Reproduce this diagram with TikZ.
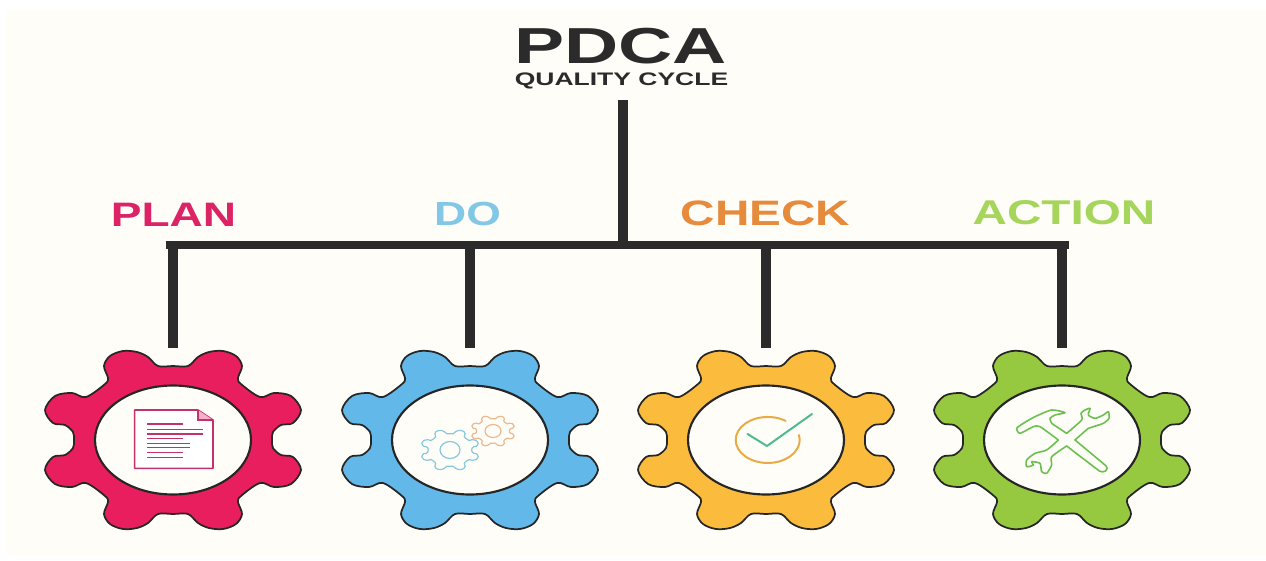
\documentclass[tikz,border=0pt]{standalone}
\usepackage{fontspec}
\usepackage{graphicx}
\setmainfont{Liberation Sans}
\definecolor{cream}{HTML}{FFFDF8}
\definecolor{barc}{HTML}{2B2B2B}
\definecolor{pinkc}{HTML}{E91E5F}
\definecolor{bluec}{HTML}{62B9E9}
\definecolor{yelc}{HTML}{FBBC3E}
\definecolor{grnc}{HTML}{96C93F}
\definecolor{pinkt}{HTML}{DB2365}
\definecolor{bluet}{HTML}{82C7E6}
\definecolor{oranget}{HTML}{E68A3C}
\definecolor{grnt}{HTML}{A6D55B}
\definecolor{toolc}{HTML}{6CC04F}
\definecolor{minib}{HTML}{86C8DC}
\definecolor{minio}{HTML}{EBB98F}
\definecolor{ringc}{HTML}{E9AC45}
\definecolor{tickc}{HTML}{4FBA92}
\definecolor{docc}{HTML}{C2336E}
\newcommand\fitbox[3]{\resizebox{#1pt}{#2pt}{\textbf{#3}}}
\newcommand\gearpath{plot[smooth cycle,tension=.55] coordinates{
 (0,-74)(15,-74)(25,-83)(36,-88)(50,-89)(63,-84)(69,-74)(65,-62)(68,-56)(87,-43)(101,-47)(118,-44)(128,-30)(120,-17)(108,-15)(100,-8)(99,0)(100,8)(108,15)(120,17)(128,30)(118,44)(101,47)(87,43)(68,56)(65,62)(69,74)(63,84)(50,89)(36,88)(25,83)(15,74)
 (0,74)(-15,74)(-25,83)(-36,88)(-50,89)(-63,84)(-69,74)(-65,62)(-68,56)(-87,43)(-101,47)(-118,44)(-128,30)(-120,17)(-108,15)(-100,8)(-99,0)(-100,-8)(-108,-15)(-120,-17)(-128,-30)(-118,-44)(-101,-47)(-87,-43)(-68,-56)(-65,-62)(-69,-74)(-63,-84)(-50,-89)(-36,-88)(-25,-83)(-15,-74)}}
\tikzset{
 txt/.style={inner sep=0pt,outer sep=0pt,text=#1},
 bar/.style={draw=barc,line width=7.8pt},
 busline/.style={draw=barc,line width=6.2pt,line cap=butt},
 gearout/.style={draw=black!85,line width=1.3pt,fill=#1,line join=round},
 hole/.style={draw=black!85,line width=1.6pt,fill=cream},
 minigear/.style={draw=#1,line width=.9pt},
 tool/.style={draw=toolc,line width=1.2pt,line cap=round,line join=round},
 docline/.style={draw=docc,line width=1.2pt},
}
\begin{document}
\begin{tikzpicture}[x=.75pt,y=-.75pt]
\useasboundingbox (0,0) rectangle (1266,560);
\fill[white] (0,0) rectangle (1266,560);
\fill[cream] (6,10) rectangle (1266,556);
% title
\node[txt=barc] (pdca) at (620.5,46.5) {\fitbox{159.5}{26.5}{PDCA}};
\node[txt=barc] (qc) at (621.5,80.5) {\fitbox{160}{9.5}{QUALITY CYCLE}};
% labels
\node[txt=pinkt] (lplan) at (173.5,215) {\fitbox{94}{17.5}{PLAN}};
\node[txt=bluet] (ldo) at (467.5,213.5) {\fitbox{50}{17.5}{DO}};
\node[txt=oranget] (lcheck) at (765.5,213.5) {\fitbox{127}{18.5}{CHECK}};
\node[txt=grnt] (laction) at (1064,213) {\fitbox{137}{18}{ACTION}};
% anchors
\coordinate (trunktop) at (623,100);
\coordinate (trunkfoot) at (623,245);
\foreach \n/\x in {1/173,2/470,3/766,4/1062}{
  \coordinate (j\n) at (\x,245);
  \coordinate (t\n) at (\x,348);
}
\draw[bar] (trunktop) -- (trunkfoot);
\draw[busline] ([xshift=-5.5]j1) -- ([xshift=5.5]j4);
\foreach \n in {1,2,3,4}{\draw[bar] (j\n) -- (t\n);}
% gears
\foreach \n/\x/\c in {1/173/pinkc,2/470/bluec,3/766/yelc,4/1062/grnc}{
  \node[inner sep=0pt,minimum size=0pt] (g\n) at (\x,440) {};
  \draw[gearout=\c,shift={(g\n)}] \gearpath;
  \draw[hole] (g\n) ellipse [x radius=78*.75pt,y radius=54.5*.75pt];
}
% document icon
\begin{scope}[shift={(g1)},x=.25pt,y=-.25pt]
  \draw[draw=docc,line width=1.2pt,fill=white,line join=round] (-115,-90) -- (75,-90) -- (120,-60) -- (120,85) -- (-115,85) -- cycle;
  \fill[pinkc!35] (75,-90) -- (120,-60) -- (75,-60) -- cycle;
  \draw[draw=docc,line width=.8pt] (75,-90) -- (75,-60) -- (120,-60);
  \foreach \y/\e in {-48/30,-32/90,-18/90,-4/30,10/50,22/50,38/30,52/30}{
    \draw[docline] (-78,\y) -- (\e,\y);
  }
\end{scope}
% do icon
\begin{scope}[shift={(g2)}]
  \draw[minigear=minib,shift={(-20,10)},scale=.22] \gearpath;
  \draw[minigear=minib] (-20,10) ellipse [x radius=10*.75pt,y radius=8.5*.75pt];
  \draw[minigear=minio,shift={(23,-9)},scale=.165] \gearpath;
  \draw[minigear=minio] (23,-9) ellipse [x radius=8*.75pt,y radius=6.5*.75pt];
\end{scope}
% check icon
\begin{scope}[shift={(g3)}]
  \draw[draw=ringc,line width=1.5pt,line cap=round] (19.6,-19.1) arc [start angle=56,end angle=372.5,x radius=32*.75pt,y radius=23*.75pt];
  \draw[draw=tickc,line width=1.5pt,line cap=round,line join=round] (-18.5,-6) -- (1,6) -- (46,-26);
\end{scope}
% tools icon
\begin{scope}[shift={(1005,400)},x=.25pt,y=-.25pt]
  \draw[tool] plot[smooth,tension=.4] coordinates{(140,70)(135,55)(150,45)(180,38)(140,30)(90,50)(55,70)(35,85)(45,100)(85,80)(105,80)(160,120)};
  \draw[tool] (140,70) -- (185,100);
  \draw[tool,rounded corners=3pt] (185,138) -- (292,220) -- (312,205) -- (210,120);
  \draw[tool] plot[smooth,tension=.4] coordinates{(185,100)(230,60)(228,40)(240,30)(255,25)(250,45)(270,55)(295,45)(310,35)(312,55)(295,70)(265,80)(250,85)(210,120)};
  \draw[tool] plot[smooth,tension=.4] coordinates{(160,120)(125,150)(90,160)(65,180)(65,200)(85,195)(80,185)(105,190)(110,215)(125,220)(140,195)(140,170)(185,138)};
\end{scope}
\end{tikzpicture}
\end{document}
